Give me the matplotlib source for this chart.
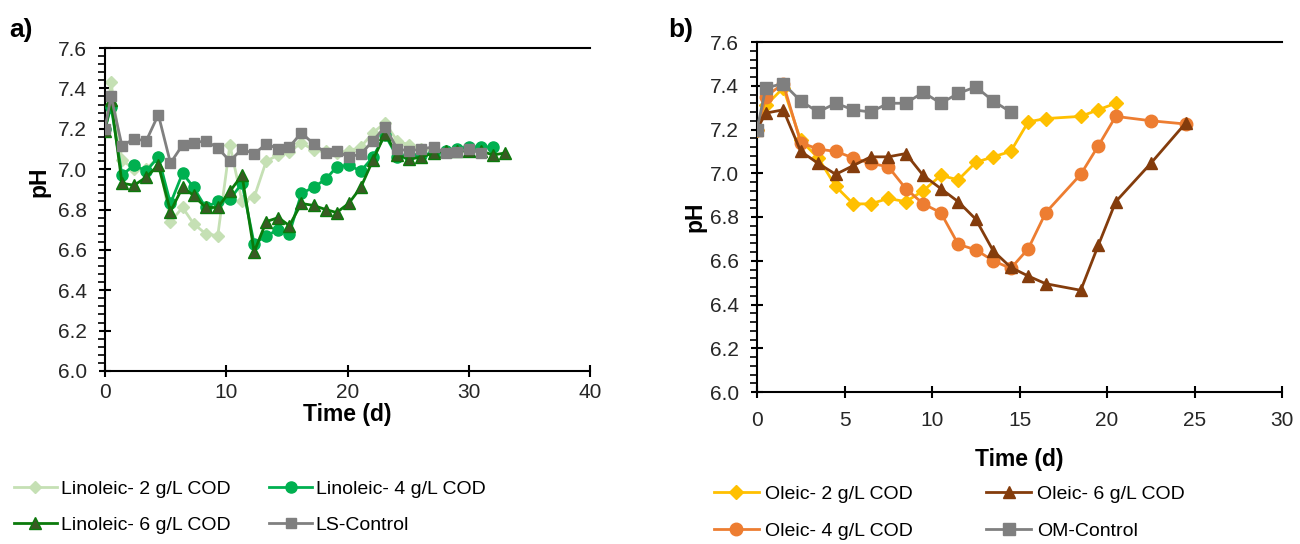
import matplotlib
matplotlib.use("Agg")
import matplotlib.pyplot as plt
from matplotlib.ticker import MultipleLocator

plt.rcParams['font.family'] = ['Liberation Sans', 'DejaVu Sans']

# ---------------- Panel a: linoleic acid ----------------
t_lino = [0, 0.5, 1.4, 2.4, 3.4, 4.4, 5.4, 6.4, 7.3, 8.3, 9.3, 10.3, 11.3, 12.3,
          13.3, 14.3, 15.2, 16.2, 17.2, 18.2, 19.1, 20.1, 21.1, 22.1, 23.1, 24.1,
          25.1, 26.1, 27.1, 28.1, 29.0, 30.0, 31.0, 32.0, 33.0]

lino2_ph = [7.20, 7.43, 7.045, 7.00, 7.00, 7.06, 6.74, 6.81, 6.73, 6.68, 6.67, 7.12,
            6.84, 6.86, 7.04, 7.07, 7.085, 7.13, 7.095, 7.09, 7.08, 7.09, 7.11, 7.18,
            7.23, 7.14, 7.12, 7.10, 7.09, 7.09, 7.09]
lino4_ph = [7.20, 7.31, 6.97, 7.02, 6.99, 7.06, 6.83, 6.98, 6.91, 6.81, 6.84, 6.85,
            6.93, 6.63, 6.67, 6.70, 6.68, 6.88, 6.91, 6.95, 7.01, 7.02, 6.99, 7.06,
            7.17, 7.06, 7.07, 7.07, 7.08, 7.09, 7.10, 7.11, 7.11, 7.11]
lino6_ph = [7.19, 7.34, 6.93, 6.92, 6.96, 7.02, 6.79, 6.91, 6.87, 6.81, 6.81, 6.89,
            6.97, 6.59, 6.74, 6.76, 6.72, 6.83, 6.82, 6.80, 6.785, 6.83, 6.91, 7.045,
            7.175, 7.07, 7.05, 7.06, 7.08, 7.09, 7.09, 7.09, 7.09, 7.07, 7.08]
ls_control_ph = [7.20, 7.36, 7.115, 7.15, 7.14, 7.27, 7.03, 7.12, 7.13, 7.14, 7.105,
                 7.04, 7.10, 7.075, 7.125, 7.10, 7.11, 7.18, 7.125, 7.08, 7.09, 7.06,
                 7.075, 7.14, 7.21, 7.10, 7.09, 7.10, 7.11, 7.08, 7.085, 7.10, 7.08]

# ---------------- Panel b: oleic acid ----------------
t_ole2 = [0, 0.5, 1.5, 2.5, 3.5, 4.5, 5.5, 6.5, 7.5, 8.5, 9.5, 10.5, 11.5, 12.5,
          13.5, 14.5, 15.5, 16.5, 18.5, 19.5, 20.5]
ole2_ph = [7.20, 7.31, 7.39, 7.15, 7.07, 6.94, 6.86, 6.86, 6.885, 6.87, 6.92, 6.99,
           6.97, 7.05, 7.075, 7.10, 7.235, 7.25, 7.26, 7.29, 7.32]

t_ole4 = [0, 0.5, 1.5, 2.5, 3.5, 4.5, 5.5, 6.5, 7.5, 8.5, 9.5, 10.5, 11.5, 12.5,
          13.5, 14.5, 15.5, 16.5, 18.5, 19.5, 20.5, 22.5, 24.5]
ole4_ph = [7.20, 7.35, 7.41, 7.14, 7.11, 7.10, 7.07, 7.045, 7.03, 6.93, 6.86, 6.82,
           6.675, 6.65, 6.60, 6.565, 6.655, 6.82, 6.995, 7.125, 7.26, 7.24, 7.225]

t_ole6 = [0, 0.5, 1.5, 2.5, 3.5, 4.5, 5.5, 6.5, 7.5, 8.5, 9.5, 10.5, 11.5, 12.5,
          13.5, 14.5, 15.5, 16.5, 18.5, 19.5, 20.5, 22.5, 24.5]
ole6_ph = [7.20, 7.275, 7.29, 7.10, 7.045, 6.995, 7.035, 7.075, 7.075, 7.09, 6.99,
           6.93, 6.87, 6.79, 6.645, 6.57, 6.53, 6.495, 6.465, 6.67, 6.87, 7.045, 7.23]

t_om = [0, 0.5, 1.5, 2.5, 3.5, 4.5, 5.5, 6.5, 7.5, 8.5, 9.5, 10.5, 11.5, 12.5,
        13.5, 14.5]
om_control_ph = [7.20, 7.39, 7.41, 7.33, 7.28, 7.32, 7.29, 7.28, 7.32, 7.32, 7.37,
                 7.32, 7.365, 7.395, 7.33, 7.28]

W, H = 1300, 544
fig = plt.figure(figsize=(W / 100, H / 100), dpi=100)


def frac_axes(left, right, top, bottom):
    return fig.add_axes([left / W, 1 - bottom / H, (right - left) / W, (bottom - top) / H])


ax_a = frac_axes(105, 590, 48, 371)
ax_b = frac_axes(757, 1282, 42, 392)

LW = 2.0

# panel a series
h_l2, = ax_a.plot(t_lino[:len(lino2_ph)], lino2_ph, color='#C5E0B4', lw=LW,
                  marker='D', ms=6.5, mfc='#C5E0B4', mec='#C5E0B4',
                  label='Linoleic- 2 g/L COD', zorder=2)
h_l4, = ax_a.plot(t_lino[:len(lino4_ph)], lino4_ph, color='#00B050', lw=LW,
                  marker='o', ms=8, mfc='#00B050', mec='#00B050',
                  label='Linoleic- 4 g/L COD', zorder=3)
h_l6, = ax_a.plot(t_lino[:len(lino6_ph)], lino6_ph, color='#0B7A0B', lw=LW,
                  marker='^', ms=8, mfc='#3A5A24', mec='#0B7A0B', mew=1.0,
                  label='Linoleic- 6 g/L COD', zorder=4)
h_ls, = ax_a.plot(t_lino[:len(ls_control_ph)], ls_control_ph, color='#808080', lw=LW,
                  marker='s', ms=7.5, mfc='#7F7F7F', mec='#7F7F7F',
                  label='LS-Control', zorder=5)

# panel b series
h_o2, = ax_b.plot(t_ole2, ole2_ph, color='#FFC000', lw=LW, marker='D', ms=7.5,
                  mfc='#FFC000', mec='#FFC000', label='Oleic- 2 g/L COD', zorder=3)
h_o4, = ax_b.plot(t_ole4, ole4_ph, color='#ED7D31', lw=LW, marker='o', ms=9,
                  mfc='#ED7D31', mec='#ED7D31', label='Oleic- 4 g/L COD', zorder=4)
h_o6, = ax_b.plot(t_ole6, ole6_ph, color='#843C0C', lw=LW, marker='^', ms=9,
                  mfc='#843C0C', mec='#843C0C', label='Oleic- 6 g/L COD', zorder=5)
h_om, = ax_b.plot(t_om, om_control_ph, color='#808080', lw=LW, marker='s', ms=8,
                  mfc='#7F7F7F', mec='#7F7F7F', label='OM-Control', zorder=6)

TICK_FS = 15
TITLE_FS = 16.5
for ax, xmax in ((ax_a, 40), (ax_b, 30)):
    ax.set_xlim(0, xmax)
    ax.set_ylim(6.0, 7.6)
    ax.xaxis.set_major_locator(MultipleLocator(10 if xmax == 40 else 5))
    ax.yaxis.set_major_locator(MultipleLocator(0.2))
    ax.yaxis.set_minor_locator(MultipleLocator(0.04))
    ax.yaxis.set_major_formatter(plt.FormatStrFormatter('%.1f'))
    ax.spines['right'].set_visible(False)
    for s in ('left', 'bottom', 'top'):
        ax.spines[s].set_linewidth(1.5)
        ax.spines[s].set_color('black')
    ax.tick_params(axis='both', which='major', direction='inout', length=9, width=1.5,
                   labelsize=TICK_FS, colors='black')
    ax.tick_params(axis='y', which='minor', direction='out', length=5, width=1.2)
    ax.tick_params(axis='y', which='major', pad=8.5)
    ax.set_ylabel('pH', fontsize=TITLE_FS, fontweight='bold')
    ax.set_xlabel('Time (d)', fontsize=TITLE_FS, fontweight='bold')
    for lab in ax.get_yticklabels() + ax.get_xticklabels():
        lab.set_color('#262626')

ax_a.tick_params(axis='x', which='major', pad=4)
ax_b.tick_params(axis='x', which='major', pad=9)

ax_a.yaxis.set_label_coords(-0.113, 0.585)
ax_a.xaxis.set_label_coords(0.5, -0.099)
ax_b.yaxis.set_label_coords(-0.097, 0.5)
ax_b.xaxis.set_label_coords(0.5, -0.16)

fig.text(9 / W, 1 - 30 / H, 'a)', fontsize=19, fontweight='bold', va='center', ha='left')
fig.text(668 / W, 1 - 30 / H, 'b)', fontsize=19, fontweight='bold', va='center', ha='left')

LEG_FS = 14
leg_a = fig.legend(handles=[h_l2, h_l6, h_l4, h_ls], ncol=2, frameon=False,
                   fontsize=LEG_FS, loc='upper left',
                   bbox_to_anchor=(14 / W, 1 - 480 / H),
                   handlelength=2.2, handletextpad=0.2, columnspacing=2.0,
                   labelspacing=0.95, borderaxespad=0, borderpad=0)
leg_b = fig.legend(handles=[h_o2, h_o4, h_o6, h_om], ncol=2, frameon=False,
                   fontsize=LEG_FS, loc='upper left',
                   bbox_to_anchor=(714 / W, 1 - 485 / H),
                   handlelength=2.3, handletextpad=0.3, columnspacing=3.8,
                   labelspacing=1.0, borderaxespad=0, borderpad=0)

fig.savefig('out.png', dpi=100)
